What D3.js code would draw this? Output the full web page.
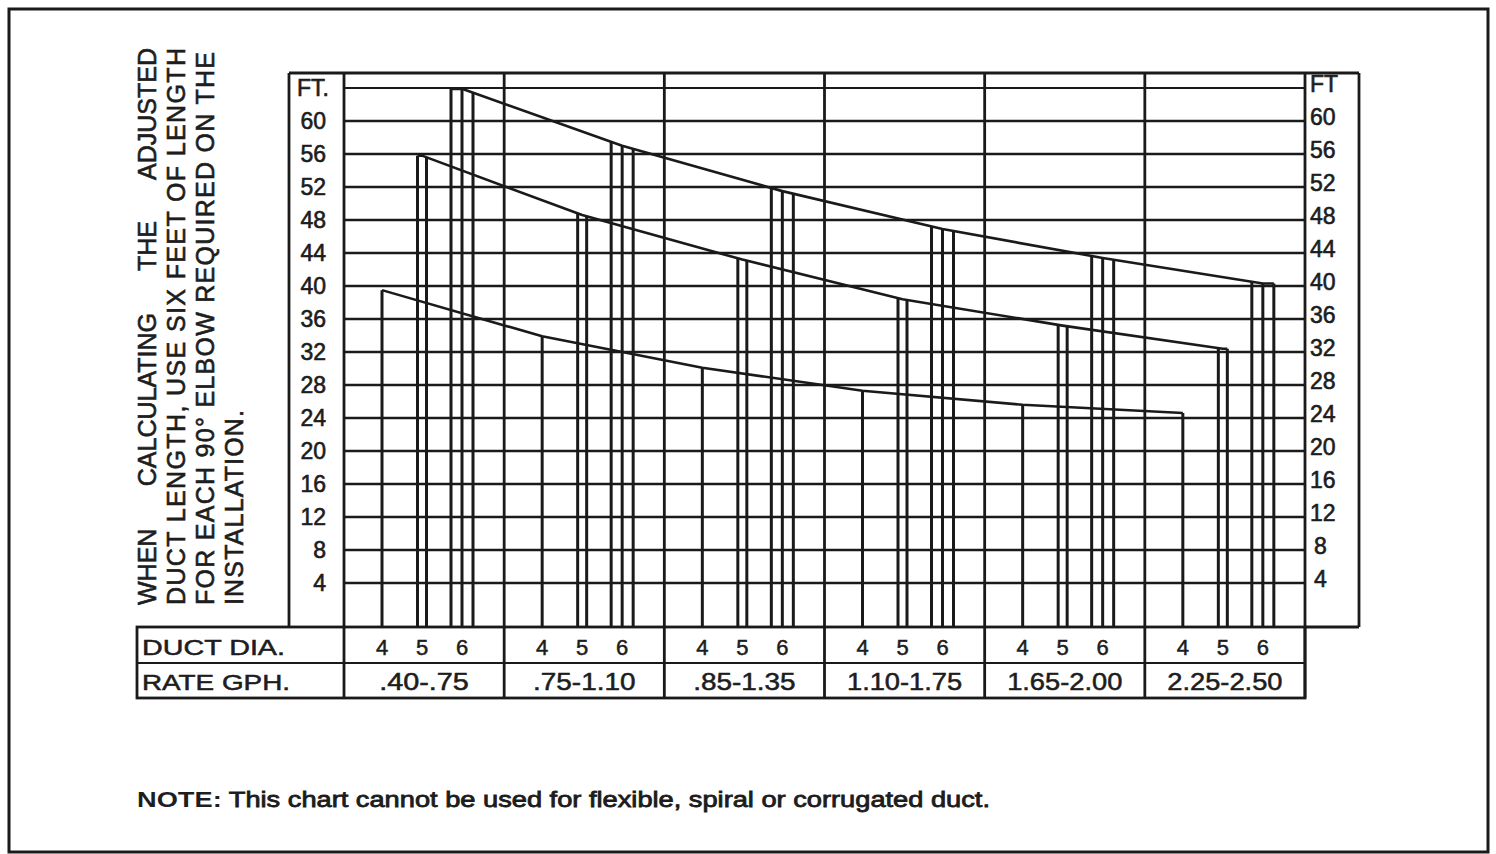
<!DOCTYPE html>
<html>
<head>
<meta charset="utf-8">
<title>Duct length chart</title>
<style>
  body { margin: 0; background: #fff; }
  svg text { font-family: "Liberation Sans", Arial, sans-serif; fill: #1e1e1e; }
</style>
</head>
<body>
<script src="https://cdn.jsdelivr.net/npm/d3@7/dist/d3.min.js"></script>
<script>
var width = 1496, height = 854;

// rate ranges (GPH) and duct diameters
var rateRanges = [".40-.75", ".75-1.10", ".85-1.35", "1.10-1.75", "1.65-2.00", "2.25-2.50"];
var ductSizes = [4, 5, 6];

// max duct length (ft), one per rate range
var feet4 = [39.5, 33.9, 30.1, 27.3, 25.6, 24.6];
var feet5 = [55.8, 48.6, 43.2, 38.4, 35.2, 32.4];
var feet6 = [63.9, 57.0, 51.5, 46.9, 43.4, 40.3];

var ftTicks = [4, 8, 12, 16, 20, 24, 28, 32, 36, 40, 44, 48, 52, 56, 60];
var gridTicks = [4, 8, 12, 16, 20, 24, 28, 32, 36, 40, 44, 48, 52, 56, 60, 64];

var sideText = [
  ["WHEN", "CALCULATING", "THE", "ADJUSTED"],
  ["DUCT LENGTH, USE SIX FEET OF LENGTH"],
  ["FOR EACH 90\u00B0 ELBOW REQUIRED ON THE"],
  ["INSTALLATION."]
];

// layout
var plotLeft = 344, plotRight = 1305, plotTop = 73, plotBottom = 627;
var colLeft = 289, colRight = 1359;
var tableLeft = 137, tableMid = 663, tableBottom = 698;
var ink = "#1a1a1a";

var svg = d3.select("body").append("svg")
  .attr("width", width)
  .attr("height", height);

var x = d3.scaleBand().domain(rateRanges).range([plotLeft, plotRight]);
var xDia = d3.scalePoint().domain(ductSizes).range([38, 118]);
var y = d3.scaleLinear().domain([0, 60]).range([616, 121]);

// outer frame
svg.append("rect")
  .attr("x", 9).attr("y", 9)
  .attr("width", 1479).attr("height", 843)
  .attr("fill", "none").attr("stroke", ink).attr("stroke-width", 3);

// horizontal grid
svg.append("g").selectAll("line")
  .data(gridTicks)
  .join("line")
  .attr("x1", plotLeft).attr("x2", plotRight)
  .attr("y1", function(d){ return y(d); })
  .attr("y2", function(d){ return y(d); })
  .attr("stroke", ink)
  .attr("stroke-width", function(d){ return d == 64 ? 1.8 : 2.7; });

// group dividers (run through the table)
var dividers = rateRanges.map(function(r){ return x(r); }).concat([plotRight]);
svg.append("g").selectAll("line")
  .data(dividers)
  .join("line")
  .attr("x1", function(d){ return d; }).attr("x2", function(d){ return d; })
  .attr("y1", plotTop).attr("y2", tableBottom)
  .attr("stroke", ink).attr("stroke-width", 2.8);

// side columns & table frame
var frame = svg.append("g").attr("stroke", ink).attr("stroke-width", 2.8).attr("fill", "none");
frame.append("line").attr("x1", colLeft).attr("x2", colRight).attr("y1", plotTop).attr("y2", plotTop);
frame.append("line").attr("x1", colLeft).attr("x2", colLeft).attr("y1", plotTop).attr("y2", plotBottom);
frame.append("line").attr("x1", colRight).attr("x2", colRight).attr("y1", plotTop).attr("y2", plotBottom);
frame.append("line").attr("x1", plotRight).attr("x2", colRight).attr("y1", plotBottom).attr("y2", plotBottom);
frame.append("rect")
  .attr("x", tableLeft).attr("y", plotBottom)
  .attr("width", plotRight - tableLeft).attr("height", tableBottom - plotBottom);
frame.append("line").attr("x1", tableLeft).attr("x2", plotRight)
  .attr("y1", tableMid).attr("y2", tableMid).attr("stroke-width", 1.8);

// series: one curve per duct size, drop lines per rate range
var series = [
  { size: 4, values: feet4, offsets: [0] },
  { size: 5, values: feet5, offsets: [-4.5, 4.5] },
  { size: 6, values: feet6, offsets: [-11, 0, 11] }
];

var line = d3.line()
  .x(function(d){ return d.x; })
  .y(function(d){ return y(d.v); });

var area = d3.area()
  .x(function(d){ return d.x; })
  .y0(plotBottom)
  .y1(function(d){ return y(d.v); });

var defs = svg.append("defs");

series.forEach(function(s){
  var pts = s.values.map(function(v, i){
    return { x: x(rateRanges[i]) + xDia(s.size), v: v };
  });
  var first = s.offsets[0], last = s.offsets[s.offsets.length - 1];
  var curvePts = pts.slice();
  if (first != 0) curvePts.unshift({ x: pts[0].x + first, v: pts[0].v });
  if (last != 0) curvePts.push({ x: pts[pts.length - 1].x + last, v: pts[pts.length - 1].v });

  var clipPts = [{ x: curvePts[0].x - 3, v: curvePts[0].v }]
    .concat(curvePts)
    .concat([{ x: curvePts[curvePts.length - 1].x + 3, v: curvePts[curvePts.length - 1].v }]);

  defs.append("clipPath").attr("id", "clip" + s.size)
    .append("path").attr("d", area(clipPts));

  var drops = [];
  pts.forEach(function(p){
    s.offsets.forEach(function(o){ drops.push(p.x + o); });
  });

  svg.append("g")
    .attr("clip-path", "url(#clip" + s.size + ")")
    .selectAll("line")
    .data(drops)
    .join("line")
    .attr("x1", function(d){ return d; }).attr("x2", function(d){ return d; })
    .attr("y1", plotBottom).attr("y2", plotTop - 10)
    .attr("stroke", ink).attr("stroke-width", 3);

  svg.append("path")
    .attr("d", line(curvePts))
    .attr("fill", "none")
    .attr("stroke", ink)
    .attr("stroke-width", 2.6)
    .attr("stroke-linejoin", "round");
});

// y labels, left and right
var lab = svg.append("g").attr("font-size", 23).attr("stroke", ink).attr("stroke-width", 0.6);
lab.selectAll(".yl")
  .data(ftTicks)
  .join("text")
  .attr("class", "yl")
  .attr("x", 326)
  .attr("y", function(d){ return y(d) + 8; })
  .attr("text-anchor", "end")
  .text(function(d){ return d; });
lab.append("text").attr("x", 297).attr("y", y(64) + 8).text("FT.");

lab.selectAll(".yr")
  .data(ftTicks)
  .join("text")
  .attr("class", "yr")
  .attr("x", function(d){ return d < 10 ? 1314 : 1310; })
  .attr("y", function(d){ return y(d) + 4; })
  .text(function(d){ return d; });
lab.append("text").attr("x", 1310).attr("y", y(64) + 4).text("FT");

// table text
var tbl = svg.append("g").attr("font-size", 22).attr("stroke", ink).attr("stroke-width", 0.5);
tbl.append("text").attr("x", 142).attr("y", 655)
  .attr("textLength", 143).attr("lengthAdjust", "spacingAndGlyphs").text("DUCT DIA.");
tbl.append("text").attr("x", 142).attr("y", 690)
  .attr("textLength", 148).attr("lengthAdjust", "spacingAndGlyphs").text("RATE GPH.");

rateRanges.forEach(function(r){
  tbl.selectAll(null)
    .data(ductSizes)
    .join("text")
    .attr("x", function(d){ return x(r) + xDia(d); })
    .attr("y", 655)
    .attr("text-anchor", "middle")
    .text(function(d){ return d; });
});
tbl.selectAll(".rate")
  .data(rateRanges)
  .join("text")
  .attr("class", "rate")
  .attr("x", function(d){ return x(d) + x.bandwidth() / 2; })
  .attr("y", 690)
  .attr("text-anchor", "middle")
  .attr("font-size", 23)
  .attr("textLength", function(d){ return d.length * 12.8; })
  .attr("lengthAdjust", "spacingAndGlyphs")
  .text(function(d){ return d; });

// rotated side note
var sideX = [156, 185, 214, 243];
var sideLen = [557, 557, 553, 195];
var side = svg.append("g").attr("font-size", 25).attr("stroke", ink).attr("stroke-width", 0.6);
sideText.forEach(function(words, i){
  var t = side.append("text")
    .attr("transform", "translate(" + sideX[i] + ",605) rotate(-90)")
    .text(words.join(" "));
  if (words.length > 1) {
    var natural = t.node().getComputedTextLength();
    t.attr("word-spacing", (sideLen[i] - natural) / (words.length - 1));
  } else {
    t.attr("textLength", sideLen[i]).attr("lengthAdjust", "spacing");
  }
});

// note
var note = svg.append("text")
  .attr("x", 137).attr("y", 807)
  .attr("font-size", 22).attr("font-weight", "bold")
  .attr("textLength", 853).attr("lengthAdjust", "spacingAndGlyphs");
note.append("tspan").text("NOTE:");
note.append("tspan").attr("font-weight", "normal").attr("stroke", ink).attr("stroke-width", 0.8)
  .text(" This chart cannot be used for flexible, spiral or corrugated duct.");
</script>
</body>
</html>
